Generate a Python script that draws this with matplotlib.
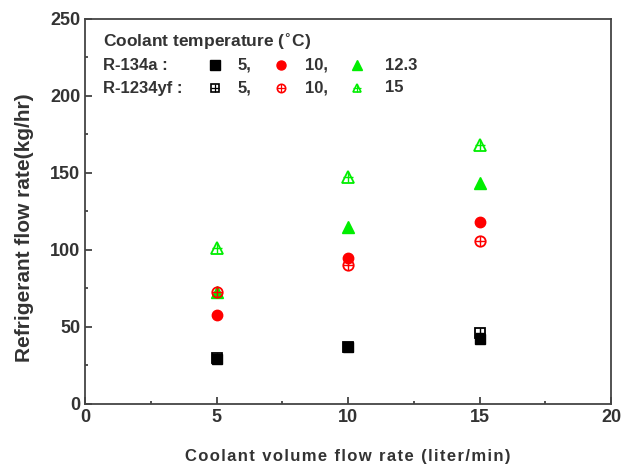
import numpy as np
import matplotlib.pyplot as plt
from matplotlib.ticker import MultipleLocator

# coolant volume flow rate (liter/min)
flow = [5, 10, 15]

# refrigerant flow rate (kg/hr), R-134a
r134a_5 = [29, 37, 42]
r134a_10 = [57.5, 94.5, 118]
r134a_12 = [72.5, 115, 143]

# refrigerant flow rate (kg/hr), R-1234yf
r1234_5 = [30, 37, 46]
r1234_10 = [72.5, 90, 106]
r1234_15 = [101, 147.5, 168]

txt = '#333333'
plt.rcParams['font.family'] = ['Liberation Sans', 'DejaVu Sans']
plt.rcParams['font.weight'] = 'bold'
plt.rcParams['axes.labelweight'] = 'bold'

fig = plt.figure(figsize=(6.34, 4.67), dpi=100)
ax = fig.add_axes([85 / 634, 1 - 404 / 467, 526 / 634, 385.5 / 467])

ms = 7.5
ax.plot(flow, r134a_5, 's', color='k', ms=ms, zorder=3)
ax.plot(flow, r134a_10, 'o', color='#ff0000', ms=ms, zorder=3)
ax.plot(flow, r134a_12, '^', color='#00ee00', ms=ms + 1, zorder=3)

for y, m, c in [(r1234_5, 's', 'k'), (r1234_10, 'o', '#ff0000'), (r1234_15, '^', '#00ee00')]:
    ax.plot(flow, y, m, mfc='none', mec=c, mew=1.3, ms=ms + (1 if m == '^' else 0), zorder=4)
    ax.plot(flow, y, '+', color=c, mew=1.0, ms=ms, zorder=4)

ax.set_xlim(0, 20)
ax.set_ylim(0, 250)
ax.xaxis.set_major_locator(MultipleLocator(5))
ax.xaxis.set_minor_locator(MultipleLocator(2.5))
ax.yaxis.set_major_locator(MultipleLocator(50))
ax.yaxis.set_minor_locator(MultipleLocator(25))
ax.tick_params(which='both', direction='in', top=False, right=False, color='#333333',
               labelcolor=txt, labelsize=13)
ax.tick_params(which='major', length=5, width=1.2)
ax.tick_params(which='minor', length=2.5, width=1.2)
for s in ax.spines.values():
    s.set_color('#444444')
    s.set_linewidth(1.3)

xlab = '\u200a'.join('Coolant volume flow rate (liter/min)')
ax.set_xlabel(xlab, fontsize=12, color=txt)
ax.xaxis.set_label_coords(0.5, -(456 - 404) / 385.5)
ax.xaxis.label.set_va('center')
ax.set_ylabel('Refrigerant flow rate(kg/hr)', fontsize=15, color=txt)
ax.yaxis.set_label_coords((25 - 85) / 526, (404 - 228) / 385.5)
ax.yaxis.label.set_va('center')

# legend drawn as text in axes fraction
def fx(px):
    return (px - 85) / 526

def fy(py):
    return (404 - py) / 385.5

T = ax.transAxes
fs = 12
ax.text(fx(103), fy(42), 'Coolant temperature ($^{\\circ}$C)', transform=T, fontsize=fs + 0.5,
        color=txt, va='center')
rows = [('R-134a :', fy(65), False), ('R-1234yf :', fy(88), True)]
labels = [['5,', '10,', '12.3'], ['5,', '10,', '15']]
markers = [('s', 'k'), ('o', '#ff0000'), ('^', '#00ee00')]
mx = [fx(215), fx(281), fx(357)]
lx = [fx(238), fx(305), fx(385)]
for i, (name, yy, hollow) in enumerate(rows):
    ax.text(fx(103), yy, name, transform=T, fontsize=fs, color=txt, va='center')
    for j, (m, c) in enumerate(markers):
        if hollow:
            ax.plot(mx[j], yy, m, mfc='none', mec=c, mew=1.2, ms=6, transform=T)
            ax.plot(mx[j], yy, '+', color=c, mew=0.9, ms=6, transform=T)
        else:
            ax.plot(mx[j], yy, m, color=c, ms=6.5, transform=T)
        ax.text(lx[j], yy, labels[i][j], transform=T, fontsize=fs, color=txt, va='center')

fig.savefig('out.png', dpi=100)
